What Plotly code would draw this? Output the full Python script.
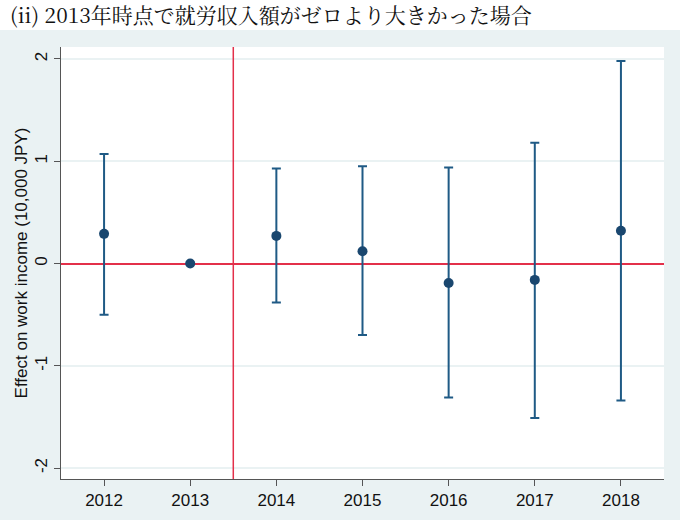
import plotly.graph_objects as go

years = [2012, 2013, 2014, 2015, 2016, 2017, 2018]
estimate = [0.29, 0.0, 0.27, 0.12, -0.19, -0.16, 0.32]
ci_upper = [1.07, 0.0, 0.93, 0.95, 0.94, 1.18, 1.98]
ci_lower = [-0.50, 0.0, -0.38, -0.70, -1.31, -1.51, -1.34]
y_ticks = [-2, -1, 0, 1, 2]
title_text = "(ii) 2013年時点で就労収入額がゼロより大きかった場合"
y_title = "Effect on work income (10,000 JPY)"

navy = "#1a476f"
red = "#e3304a"
bg = "#eaf2f3"

err_plus = [u - e for u, e in zip(ci_upper, estimate)]
err_minus = [e - l for e, l in zip(estimate, ci_lower)]

fig = go.Figure()
fig.add_trace(go.Scatter(
    x=years, y=estimate, mode="markers",
    marker=dict(color=navy, size=10),
    error_y=dict(type="data", symmetric=False, array=err_plus, arrayminus=err_minus,
                 color="#1f5a85", thickness=2, width=4.5),
    showlegend=False,
))

fig.update_layout(
    width=680, height=520,
    margin=dict(l=61, r=16, t=47, b=41),
    paper_bgcolor=bg, plot_bgcolor="white",
    font=dict(family="Liberation Sans", size=17, color="#111"),
    xaxis=dict(range=[2011.5, 2018.5], tickvals=years, ticktext=[str(y) for y in years],
               tickfont=dict(size=17), automargin=False,
               showgrid=False, zeroline=False, showline=True, linecolor="#555", linewidth=1,
               ticks="outside", ticklen=6, tickcolor="#555"),
    yaxis=dict(range=[-2.107, 2.117], tickvals=y_ticks, ticktext=[str(t) for t in y_ticks],
               tickfont=dict(size=17), automargin=False,
               tickangle=-90, showgrid=True, gridcolor=bg, gridwidth=1.5,
               zeroline=True, zerolinecolor=red, zerolinewidth=1.5,
               showline=True, linecolor="#555", linewidth=1,
               ticks="outside", ticklen=6, tickcolor="#555",
               title=dict(text=y_title, font=dict(size=17), standoff=0)),
    shapes=[
        dict(type="rect", xref="paper", yref="paper", x0=-0.2, x1=1.1,
             y0=1 + 17 / 432, y1=1 + 47 / 432, fillcolor="white", line=dict(width=0), layer="below"),
        dict(type="line", xref="x", yref="paper", x0=2013.5, x1=2013.5, y0=0, y1=1,
             line=dict(color=red, width=1.5)),
    ],
    annotations=[
        dict(text=title_text, xref="paper", yref="paper", x=-0.088, y=1 + 33 / 432,
             xanchor="left", yanchor="middle", showarrow=False,
             font=dict(family="Noto Serif CJK JP, Noto Sans CJK JP", size=21, color="#111")),
    ],
)

fig.write_html("out.html")
